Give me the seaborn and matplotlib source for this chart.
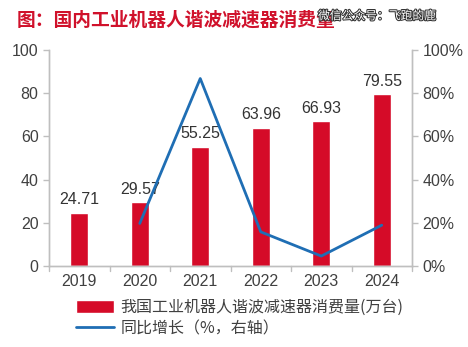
import matplotlib
matplotlib.use("Agg")
import matplotlib.pyplot as plt
import matplotlib.patheffects as pe
import seaborn as sns
import pandas as pd

years = ["2019", "2020", "2021", "2022", "2023", "2024"]
consumption = [24.71, 29.57, 55.25, 63.96, 66.93, 79.55]
growth_years = ["2020", "2021", "2022", "2023", "2024"]
growth = [19.7, 86.8, 15.8, 4.6, 18.9]
left_ticks = [0, 20, 40, 60, 80, 100]
right_ticks = [0, 20, 40, 60, 80, 100]

sns.set_style("white")
plt.rcParams['font.family'] = ['Noto Sans CJK SC', 'DejaVu Sans']

bar_color = "#D50B28"
line_color = "#1F6EB4"
gray = "#404040"
spine_c = "#BFBFBF"
num_font = ["Liberation Sans", "DejaVu Sans"]

fig = plt.figure(figsize=(4.68, 3.47), dpi=100)
ax = fig.add_axes([49/468, 1-266/347, 363/468, 216/347])

df = pd.DataFrame({"year": years, "val": consumption})
sns.barplot(data=df, x="year", y="val", color=bar_color, width=0.29, ax=ax,
            saturation=1, label="我国工业机器人谐波减速器消费量(万台)")
ax.set_xlim(-0.5, 5.5)
ax.set_ylim(0, 100)
ax.set_yticks(left_ticks)
ax.set_xlabel("")
ax.set_ylabel("")
for i, v in enumerate(consumption):
    ax.text(i, v + 2.5, f"{v:.2f}", ha="center", va="bottom", fontsize=11.5,
            color="#333333", family=num_font)

ax2 = ax.twinx()
gx = [years.index(y) for y in growth_years]
sns.lineplot(x=gx, y=growth, color=line_color, linewidth=2, ax=ax2,
             label="同比增长（%，右轴）")
ax2.set_ylim(0, 100)
ax2.set_yticks(right_ticks)
ax2.set_yticklabels([f"{t}%" for t in right_ticks])
ax2.set_xlim(-0.5, 5.5)

ax.set_xticks(range(len(years)))
ax.set_xticklabels(years)
ax.tick_params(axis="x", length=0, labelsize=11.5, labelcolor=gray, pad=6)
for b in [-0.5 + k for k in range(7)]:
    ax.plot([b, b], [0, -2.5], color=spine_c, lw=1, clip_on=False, transform=ax.transData)
ax.tick_params(axis="y", left=True, length=4, color=spine_c, labelsize=11.5, labelcolor=gray, width=1)
ax2.tick_params(axis="y", right=True, length=4, color=spine_c, labelsize=11.5, labelcolor=gray, width=1)
for a in (ax, ax2):
    a.spines["top"].set_visible(False)
    for s in ("left", "right", "bottom"):
        a.spines[s].set_color(spine_c)
        a.spines[s].set_linewidth(1)
for lab in ax.get_xticklabels() + ax.get_yticklabels() + ax2.get_yticklabels():
    lab.set_family(num_font)

h1, l1 = ax.get_legend_handles_labels()
h2, l2 = ax2.get_legend_handles_labels()
if ax2.get_legend():
    ax2.get_legend().remove()
if ax.get_legend():
    ax.get_legend().remove()
leg = fig.legend(h1 + h2, l1 + l2, loc="upper left", bbox_to_anchor=(76/468, 1-299/347),
           frameon=False, fontsize=11.5, labelcolor=gray, handlelength=2.4,
           handleheight=0.8, labelspacing=0.25, borderaxespad=0, handletextpad=0.4,
           borderpad=0)

fig.text(17/468, 1-20/347, "图：国内工业机器人谐波减速器消费量", fontsize=13.5,
         fontweight="bold", color="#D0112B", va="center", ha="left")
fig.text(318/468, 1-16/347, "微信公众号：飞跑的鹿", fontsize=8.5, color="white",
         va="center", ha="left",
         path_effects=[pe.withStroke(linewidth=1.5, foreground="#333333")])

fig.savefig("out.png", dpi=100)
